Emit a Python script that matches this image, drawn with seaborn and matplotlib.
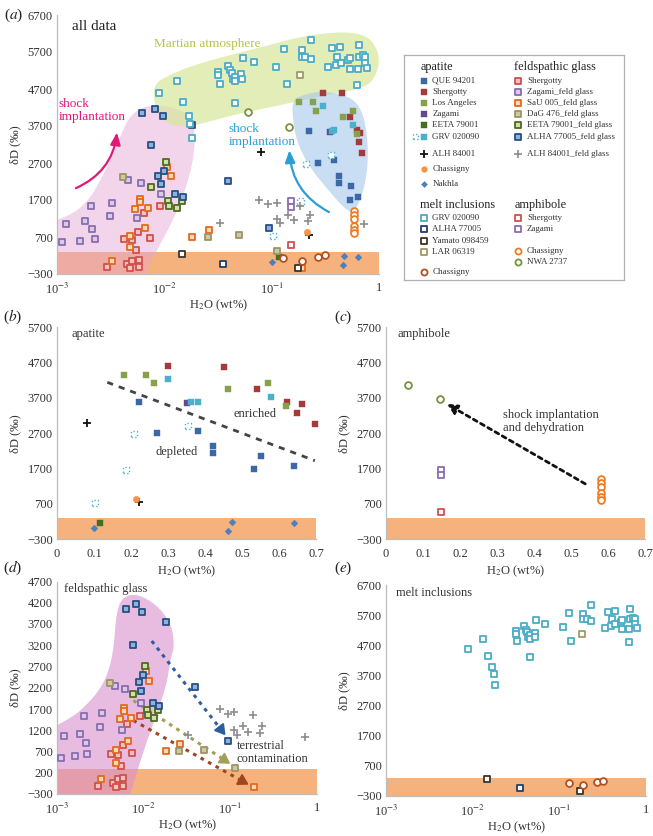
import numpy as np
import pandas as pd
import matplotlib
matplotlib.use("Agg")
import matplotlib.pyplot as plt
from matplotlib.patches import Polygon
from matplotlib.ticker import NullLocator
import seaborn as sns

# ---------------- data (H2O wt%, dD permil) ----------------
# apatite
ap_que_h2o = [0.222, 0.271, 0.381, 0.421, 0.421, 0.552, 0.532, 0.641]
ap_que_dd = [3577, 2700, 2773, 2340, 2150, 2066, 1690, 1783]
ap_sher_h2o = [0.301, 0.451, 0.540, 0.622, 0.661, 0.649, 0.697]
ap_sher_dd = [4605, 4585, 3945, 3594, 3520, 3266, 2963]
ap_la_h2o = [0.181, 0.241, 0.261, 0.462, 0.570, 0.620]
ap_la_dd = [4341, 4341, 4115, 3945, 4115, 3472]
ap_zag_h2o = [0.350]
ap_zag_dd = [3549]
ap_eeta_h2o = [0.116]
ap_eeta_dd = [152]
ap_grv_h2o = [0.301, 0.363, 0.381, 0.578]
ap_grv_dd = [4237, 3577, 3594, 3719]
ap_grv_open_h2o = [0.103, 0.186, 0.208, 0.355]
ap_grv_open_dd = [735, 1661, 2671, 2906]
ap_alh_h2o = [0.080, 0.222]
ap_alh_dd = [3000, 764]
ap_chas_h2o = [0.214]
ap_chas_dd = [832]
ap_nak_h2o = [0.100, 0.461, 0.472, 0.641]
ap_nak_dd = [28, -66, 198, 170]

# feldspathic glass
fg_sher_h2o = [0.00907, 0.00642, 0.00573, 0.0042, 0.00505, 0.00733, 0.00547,
               0.00294, 0.00447, 0.00505, 0.00475, 0.00577, 0.00577]
fg_sher_dd = [1535, 1356, 844, 648, 608, 662, 356, -116, -36, 58, -140, 72, -116]
fg_zag_h2o = [0.00463, 0.00604, 0.00923, 0.00207, 0.00327, 0.00313, 0.00562,
              0.00122, 0.00184, 0.00214, 0.00224, 0.00163, 0.00112]
fg_zag_dd = [2242, 2165, 1850, 1528, 1606, 1276, 1205, 1063, 1120, 908, 648, 584, 554]
fg_sau_h2o = [0.01054, 0.0115, 0.00588, 0.00588, 0.00533, 0.00708, 0.00659,
              0.00483, 0.00483, 0.0181, 0.0262, 0.00324, 0.19]
fg_sau_dd = [2596, 2353, 1724, 1646, 1464, 1480, 938, 726, 436, 702, 884, 58, -140]
fg_dag_h2o = [0.00409, 0.050, 0.0253, 0.113]
fg_dag_dd = [2313, 742, 702, 318]
fg_eeta_h2o = [0.01026, 0.00759, 0.0109, 0.0111, 0.0130, 0.0145]
fg_eeta_dd = [2714, 2047, 1686, 1551, 1497, 1686]
fg_alha_h2o = [0.00625, 0.00815, 0.00964, 0.0181, 0.00753, 0.0391, 0.00989,
               0.00875, 0.00923, 0.0127, 0.0149, 0.0946]
fg_alha_dd = [4044, 4170, 3973, 3737, 3195, 2219, 2495, 2337, 2125, 1850, 1780, 945]
fg_alh_h2o = [0.0759, 0.093, 0.111, 0.184, 0.0327, 0.111, 0.141, 0.161, 0.230,
              0.219, 0.120, 0.725]
fg_alh_dd = [1693, 1591, 1630, 1551, 1080, 1198, 1292, 1158, 1292, 1134, 1080, 1040]

# melt inclusions
mi_grv_h2o = [0.0089, 0.0132, 0.0150, 0.0169, 0.0174, 0.0181, 0.0316, 0.0316,
              0.0329, 0.0395, 0.041, 0.0425, 0.0436, 0.0457, 0.0457, 0.052,
              0.053, 0.0453, 0.054, 0.0685, 0.110, 0.131, 0.138, 0.190, 0.190,
              0.206, 0.233, 0.234, 0.336, 0.368, 0.398, 0.407, 0.434, 0.440,
              0.519, 0.535, 0.535, 0.630, 0.643, 0.650, 0.657, 0.711, 0.740,
              0.746, 0.780]
mi_grv_dd = [4580, 4916, 4340, 3975, 3760, 3370, 5159, 5070, 4826, 5335, 5214,
             5141, 4962, 5032, 4916, 5105, 4962, 4320, 5535, 5420, 5300, 5781,
             4826, 5754, 5557, 5557, 5503, 6030, 5290, 5800, 5349, 5573, 5843,
             5395, 5484, 5530, 5241, 4808, 5241, 5573, 5889, 5619, 5573, 5395,
             5259]
mi_alha_h2o = [0.0353]
mi_alha_dd = [-40]
mi_yam_h2o = [0.0145, 0.175]
mi_yam_dd = [250, -150]
mi_lar_h2o = [0.185]
mi_lar_dd = [5070]
mi_chas_h2o = [0.128, 0.190, 0.270, 0.315]
mi_chas_dd = [140, 60, 160, 200]

# amphibole
am_sher_h2o = [0.15]
am_sher_dd = [480]
am_zag_h2o = [0.15, 0.15]
am_zag_dd = [1661, 1520]
am_chas_h2o = [0.58, 0.58, 0.58, 0.58, 0.58, 0.58]
am_chas_dd = [1400, 1290, 1180, 1000, 900, 800]
am_nwa_h2o = [0.06, 0.146]
am_nwa_dd = [4070, 3680]

# ---------------- table ----------------
series = [
    # key, group, h2o, dD
    ("ap_que", "apatite", ap_que_h2o, ap_que_dd),
    ("ap_sher", "apatite", ap_sher_h2o, ap_sher_dd),
    ("ap_la", "apatite", ap_la_h2o, ap_la_dd),
    ("ap_zag", "apatite", ap_zag_h2o, ap_zag_dd),
    ("ap_eeta", "apatite", ap_eeta_h2o, ap_eeta_dd),
    ("ap_grv_open", "apatite", ap_grv_open_h2o, ap_grv_open_dd),
    ("ap_grv", "apatite", ap_grv_h2o, ap_grv_dd),
    ("ap_alh", "apatite", ap_alh_h2o, ap_alh_dd),
    ("ap_chas", "apatite", ap_chas_h2o, ap_chas_dd),
    ("ap_nak", "apatite", ap_nak_h2o, ap_nak_dd),
    ("fg_sher", "feld", fg_sher_h2o, fg_sher_dd),
    ("fg_zag", "feld", fg_zag_h2o, fg_zag_dd),
    ("fg_sau", "feld", fg_sau_h2o, fg_sau_dd),
    ("fg_dag", "feld", fg_dag_h2o, fg_dag_dd),
    ("fg_eeta", "feld", fg_eeta_h2o, fg_eeta_dd),
    ("fg_alha", "feld", fg_alha_h2o, fg_alha_dd),
    ("fg_alh", "feld", fg_alh_h2o, fg_alh_dd),
    ("mi_grv", "melt", mi_grv_h2o, mi_grv_dd),
    ("mi_alha", "melt", mi_alha_h2o, mi_alha_dd),
    ("mi_yam", "melt", mi_yam_h2o, mi_yam_dd),
    ("mi_lar", "melt", mi_lar_h2o, mi_lar_dd),
    ("mi_chas", "melt", mi_chas_h2o, mi_chas_dd),
    ("am_sher", "amph", am_sher_h2o, am_sher_dd),
    ("am_zag", "amph", am_zag_h2o, am_zag_dd),
    ("am_chas", "amph", am_chas_h2o, am_chas_dd),
    ("am_nwa", "amph", am_nwa_h2o, am_nwa_dd),
]
df = pd.concat([pd.DataFrame({"key": k, "group": g, "h2o": x, "dD": y})
                for k, g, x, y in series], ignore_index=True)

# marker styles
def sq(ec, fc, s=24, lw=1.3, ls="-"):
    return dict(marker="s", s=s, edgecolor=ec, facecolor=fc, linewidth=lw, linestyle=ls)

def ci(ec, fc="white", s=24, lw=1.3):
    return dict(marker="o", s=s, edgecolor=ec, facecolor=fc, linewidth=lw)

style = {
    "ap_que": sq("#3d68a8", "#3d68a8", s=18, lw=0.3),
    "ap_sher": sq("#a53a3c", "#a53a3c", s=18, lw=0.3),
    "ap_la": sq("#86a04c", "#86a04c", s=18, lw=0.3),
    "ap_zag": sq("#614a8e", "#614a8e", s=18, lw=0.3),
    "ap_eeta": sq("#4b6a22", "#4b6a22", s=18, lw=0.3),
    "ap_grv": sq("#4bb0cc", "#4bb0cc", s=18, lw=0.3),
    "ap_grv_open": sq("#4bb0cc", "white", s=20, lw=1.0, ls=":"),
    "ap_alh": dict(marker="+", s=34, color="#111111", linewidth=1.3),
    "ap_chas": dict(marker="o", s=22, color="#f7944a", edgecolor="#f7944a", linewidth=0.3),
    "ap_nak": dict(marker="D", s=12, color="#4a7fc0", edgecolor="#4a7fc0", linewidth=0.3),
    "fg_sher": sq("#d0504c", "#f4c2c0"),
    "fg_zag": sq("#8a6cb0", "#d8cbea"),
    "fg_sau": sq("#e26a1e", "#fbd8b8"),
    "fg_dag": sq("#9c9468", "#cfc9a0"),
    "fg_eeta": sq("#4f6a22", "#cfe0a8"),
    "fg_alha": sq("#2a4e82", "#8ab4e0"),
    "fg_alh": dict(marker="+", s=34, color="#8c8c8c", linewidth=1.2),
    "mi_grv": sq("#4bacc6", "white"),
    "mi_alha": sq("#1f3f6e", "white"),
    "mi_yam": sq("#3a3428", "white"),
    "mi_lar": sq("#a09a64", "white"),
    "mi_chas": ci("#b5501e"),
    "am_sher": sq("#d0504c", "white"),
    "am_zag": sq("#8a6cb0", "white"),
    "am_chas": ci("#ee7a22"),
    "am_nwa": ci("#77933c"),
}

# ---------------- theme ----------------
sns.set_theme(style="white")
plt.rcParams["font.family"] = ["Liberation Serif", "DejaVu Serif"]
plt.rcParams["mathtext.fontset"] = "stix"
plt.rcParams["axes.unicode_minus"] = True

W, H = 653, 836
fig = plt.figure(figsize=(W / 100, H / 100), dpi=100)

def add_ax(l, r, t, b):
    return fig.add_axes([l / W, 1 - b / H, (r - l) / W, (b - t) / H])

BAND = "#f6b27c"
TXT = "#333333"

def style_axis(ax, logx, ylim, ystep, xlim=(0, 0.7)):
    ax.axhspan(-300, 300, color=BAND, lw=0, zorder=0.5)
    if logx:
        ax.set_xscale("log")
        ax.set_xlim(1e-3, 1)
        ax.set_xticks([1e-3, 1e-2, 1e-1, 1])
        ax.set_xticklabels([r"10$^{-3}$", r"10$^{-2}$", r"10$^{-1}$", "1"])
        ax.xaxis.set_minor_locator(NullLocator())
        pad = 0
    else:
        ax.set_xlim(*xlim)
        ticks = np.round(np.arange(0, 0.71, 0.1), 1)
        ax.set_xticks(ticks)
        ax.set_xticklabels(["0"] + [f"{t:.1f}" for t in ticks[1:]])
        pad = 3
    ax.set_ylim(*ylim)
    ax.set_yticks(np.arange(ylim[0], ylim[1] + 1, ystep))
    for side in ["top", "right"]:
        ax.spines[side].set_visible(False)
    for side in ["left", "bottom"]:
        ax.spines[side].set_color("#bdbdbd")
        ax.spines[side].set_linewidth(0.9)
    ax.tick_params(axis="both", labelsize=9, colors=TXT, length=0, pad=3)
    ax.tick_params(axis="x", length=3, color="#bdbdbd")
    ax.set_xlabel(r"H$_2$O (wt%)", fontsize=9, color=TXT, labelpad=pad)
    ax.set_ylabel("δD (‰)", fontsize=9, color=TXT, labelpad=4)
    ax.set_facecolor("white")
    ax.grid(False)

def draw(ax, keys, z=3):
    for k in keys:
        sub = df[df["key"] == k]
        sns.scatterplot(data=sub, x="h2o", y="dD", ax=ax, legend=False,
                        zorder=z, clip_on=False, **style[k])

def smooth_shape(xs, ys, logx=True, rounds=4):
    px = np.log10(xs) if logx else np.asarray(xs, float)
    py = np.asarray(ys, float)
    for _ in range(rounds):
        nx, ny = np.roll(px, -1), np.roll(py, -1)
        qx, qy = 0.75 * px + 0.25 * nx, 0.75 * py + 0.25 * ny
        rx, ry = 0.25 * px + 0.75 * nx, 0.25 * py + 0.75 * ny
        px = np.column_stack([qx, rx]).ravel()
        py = np.column_stack([qy, ry]).ravel()
    if logx:
        px = 10 ** px
    return np.column_stack([px, py])

def region(ax, xs, ys, color, alpha, z=1):
    ax.add_patch(Polygon(smooth_shape(xs, ys), closed=True, fc=color, ec="none",
                         alpha=alpha, zorder=z))

def dotted_arrow(ax, start, end, color):
    lx = np.log10([start[0], end[0]])
    t = 0.93
    mid = (10 ** (lx[0] + t * (lx[1] - lx[0])), start[1] + t * (end[1] - start[1]))
    ax.plot([start[0], mid[0]], [start[1], mid[1]], color=color, lw=2.2,
            ls=(0, (1.2, 1.6)), zorder=2.5)
    ax.annotate("", xy=end, xytext=mid, zorder=2.5,
                arrowprops=dict(arrowstyle="-|>,head_length=0.5,head_width=0.3",
                                color=color, lw=1.5, shrinkA=0, shrinkB=0))

all_keys = [k for k, _, _, _ in series]

# ---------------- (a) all data ----------------
ax_a = add_ax(57, 379, 15, 274)
style_axis(ax_a, True, (-300, 6700), 1000)
region(ax_a,
       [5e-4, 5e-4, 0.0013, 0.002, 0.0026, 0.0033, 0.004, 0.0047, 0.0065, 0.011,
        0.0175, 0.0195, 0.0185, 0.015, 0.0113, 0.0079, 0.0058],
       [-700, 900, 1250, 1700, 2300, 2900, 3500, 3950, 4250, 4250, 4000, 3500,
        2700, 1800, 980, 170, -700], "#e6a3d4", 0.45)
region(ax_a,
       [0.0078, 0.0083, 0.0105, 0.016, 0.044, 0.128, 0.3, 0.62, 0.9, 1.05, 0.75,
        0.245, 0.084, 0.02, 0.0105],
       [4800, 4100, 3750, 3650, 4000, 4280, 4520, 4680, 4900, 5600, 6250, 6200,
        5850, 5380, 5050], "#d9e79c", 0.72)
region(ax_a,
       [0.155, 0.158, 0.175, 0.23, 0.33, 0.45, 0.55, 0.63, 0.76, 0.8, 0.72, 0.55,
        0.3, 0.2],
       [4400, 3800, 3200, 2550, 2000, 1550, 1350, 1500, 2200, 3100, 4050, 4500,
        4650, 4550], "#a9c9ec", 0.62)
draw(ax_a, all_keys)
ax_a.text(0.00138, 6380, "all data", fontsize=11, color="#222222", va="center")
ax_a.text(0.0080, 5910, "Martian atmosphere", fontsize=9.5, color="#b5c54a", va="center")
ax_a.text(1.03e-3, 4120, "shock\nimplantation", fontsize=9.5, color="#e0187a",
          va="center", linespacing=1.1)
ax_a.text(0.040, 3450, "shock\nimplantation", fontsize=9.5, color="#2a9fd6",
          va="center", linespacing=1.1)
ax_a.annotate("", xy=(0.00365, 3600), xytext=(0.00142, 1990),
              arrowprops=dict(arrowstyle="-|>,head_length=0.6,head_width=0.25",
                              color="#e0187a", lw=1.6,
                              connectionstyle="arc3,rad=0.3"))
ax_a.annotate("", xy=(0.146, 3120), xytext=(0.36, 1340),
              arrowprops=dict(arrowstyle="-|>,head_length=0.6,head_width=0.25",
                              color="#2a9fd6", lw=1.6,
                              connectionstyle="arc3,rad=-0.3"))

# ---------------- legend box ----------------
ax_l = add_ax(404, 623.5, 54.7, 279.5)
ax_l.set_xlim(404, 623.5)
ax_l.set_ylim(279.5, 54.7)
ax_l.set_xticks([])
ax_l.set_yticks([])
for s in ax_l.spines.values():
    s.set_color("#b0b0b0")
    s.set_linewidth(0.9)

left_rows = [("h", "apatite", 66.7), ("ap_que", "QUE 94201", 81), ("ap_sher", "Shergotty", 92),
             ("ap_la", "Los Angeles", 103), ("ap_zag", "Zagami", 114),
             ("ap_eeta", "EETA 79001", 125), ("ap_grv", "GRV 020090", 136.7),
             ("ap_alh", "ALH 84001", 154), ("ap_chas", "Chassigny", 168.7),
             ("ap_nak", "Nakhla", 184), ("h", "melt inclusions", 205),
             ("mi_grv", "GRV 020090", 218.3), ("mi_alha", "ALHA 77005", 229.3),
             ("mi_yam", "Yamato 098459", 241), ("mi_lar", "LAR 06319", 252),
             ("mi_chas", "Chassigny", 271.7)]
right_rows = [("h", "feldspathic glass", 66.7), ("fg_sher", "Shergotty", 81),
              ("fg_zag", "Zagami_feld glass", 92), ("fg_sau", "SaU 005_feld glass", 103),
              ("fg_dag", "DaG 476_feld glass", 114), ("fg_eeta", "EETA 79001_feld glass", 125),
              ("fg_alha", "ALHA 77005_feld glass", 136.7),
              ("fg_alh", "ALH 84001_feld glass", 154), ("h", "amphibole", 205),
              ("am_sher", "Shergotty", 218.3), ("am_zag", "Zagami", 229.3),
              ("am_chas", "Chassigny", 250.7), ("am_nwa", "NWA 2737", 262.3)]

for rows, hx, mx, tx in [(left_rows, 420.5, 424, 432.5), (right_rows, 514.3, 517.7, 527)]:
    for k, label, y in rows:
        if k == "h":
            ax_l.text(hx, y, label, fontsize=8.8, color="#222222", va="center")
            continue
        st = dict(style[k])
        st["s"] = st["s"] * 0.8
        ax_l.scatter([mx], [y], **st)
        if k == "ap_grv":
            st2 = dict(style["ap_grv_open"])
            st2["s"] = st2["s"] * 0.8
            ax_l.scatter([415.7], [y], **st2)
        ax_l.text(tx, y, label, fontsize=6.5, color="#333333", va="center")

# ---------------- (b) apatite ----------------
ax_b = add_ax(57, 316, 327.3, 539.3)
style_axis(ax_b, False, (-300, 5700), 1000)
draw(ax_b, [k for k in all_keys if k.startswith("ap_")])
ax_b.plot([0.136, 0.697], [4143, 1925], color="#444444", lw=2.0, ls=(0, (2.2, 2.2)), zorder=2)
ax_b.text(0.04, 5500, "apatite", fontsize=9, color=TXT, va="center")
ax_b.text(0.476, 3250, "enriched", fontsize=9, color=TXT, va="center")
ax_b.text(0.265, 2180, "depleted", fontsize=9, color=TXT, va="center")

# ---------------- (c) amphibole ----------------
ax_c = add_ax(386, 645, 327.3, 539.3)
style_axis(ax_c, False, (-300, 5700), 1000)
draw(ax_c, [k for k in all_keys if k.startswith("am_")])
ax_c.annotate("", xy=(0.158, 3570), xytext=(0.545, 1230),
              arrowprops=dict(arrowstyle="-|>,head_length=0.5,head_width=0.25",
                              color="#111111", lw=2.0, ls=(0, (1.5, 1.5))))
ax_c.text(0.03, 5500, "amphibole", fontsize=9, color=TXT, va="center")
ax_c.text(0.315, 3030, "shock implantation\nand dehydration", fontsize=9,
          color=TXT, va="center", linespacing=1.1)

# ---------------- (d) feldspathic glass ----------------
ax_d = add_ax(57, 317, 581.5, 794)
style_axis(ax_d, True, (-300, 4700), 500)
region(ax_d,
       [5e-4, 5e-4, 0.0015, 0.0022, 0.0031, 0.0039, 0.0045, 0.0048, 0.0055, 0.0078,
        0.012, 0.017, 0.0215, 0.0225, 0.0205, 0.0185, 0.0147, 0.0113, 0.0087, 0.0062],
       [-700, 1000, 1500, 1800, 2150, 2550, 3100, 3900, 4300, 4420, 4250, 3970,
        3600, 3150, 2900, 2300, 1670, 1040, 330, -700], "#d98fcc", 0.6)
draw(ax_d, [k for k in all_keys if k.startswith("fg_")])
dotted_arrow(ax_d, (0.0124, 3300), (0.088, 1080), "#2e5e9e")
dotted_arrow(ax_d, (0.0076, 1900), (0.100, 410), "#a39e5c")
dotted_arrow(ax_d, (0.0076, 1430), (0.163, -80), "#a0461e")
ax_d.text(0.0012, 4520, "feldspathic glass", fontsize=9, color=TXT, va="center")
ax_d.text(0.118, 670, "terrestrial\ncontamination", fontsize=9, color=TXT,
          va="center", linespacing=1.1)

# ---------------- (e) melt inclusions ----------------
ax_e = add_ax(386, 646, 585, 796)
style_axis(ax_e, True, (-300, 6700), 1000)
draw(ax_e, [k for k in all_keys if k.startswith("mi_")])
ax_e.text(0.0013, 6430, "melt inclusions", fontsize=9, color=TXT, va="center")

# panel letters
for lab, x, y in [("a", 4, 15), ("b", 3, 317), ("c", 334, 317), ("d", 3, 568), ("e", 334, 568)]:
    fig.text(x / W, 1 - y / H, f"(${lab}$)", fontsize=11, color="#222222", va="center")

fig.savefig("out.png", dpi=100)
